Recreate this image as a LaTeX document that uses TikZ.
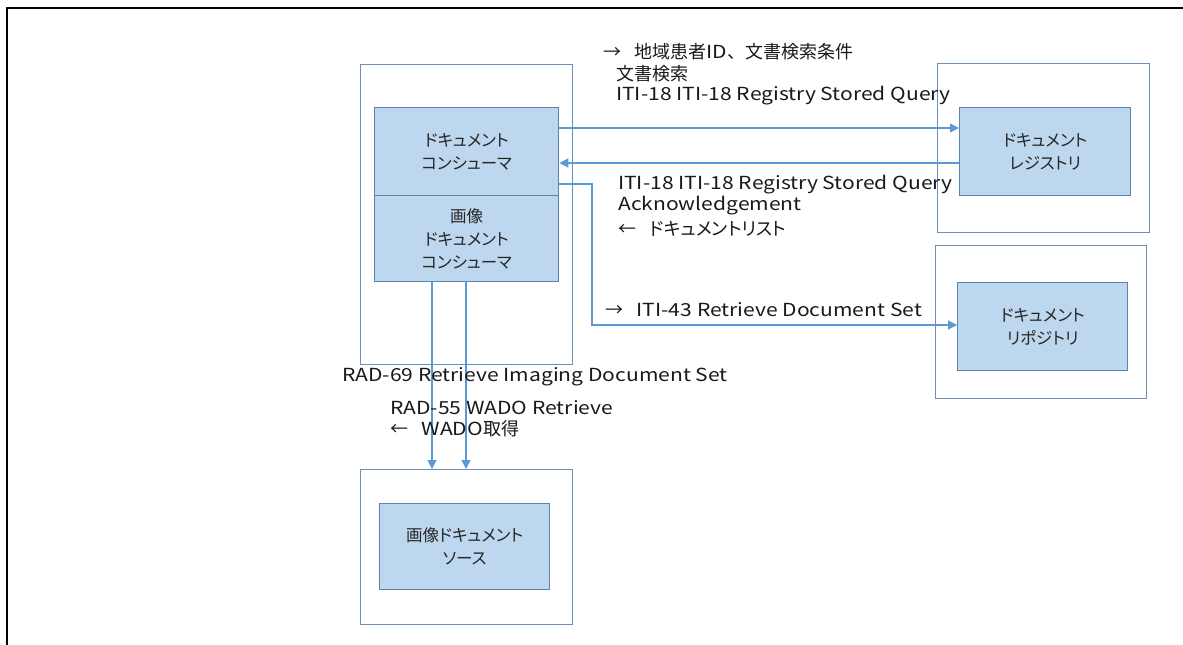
\documentclass[tikz,border=0pt]{standalone}
\usepackage{fontspec}
\setmainfont{Noto Sans CJK JP}[RawFeature=+palt]
\newfontfamily\latf{Noto Sans CJK JP}[FakeStretch=1.17]
\newfontfamily\fullw{Noto Sans CJK JP}
\usetikzlibrary{arrows.meta}
\definecolor{boxline}{HTML}{6E8EB8}
\definecolor{innerfill}{HTML}{BDD7EE}
\definecolor{innerline}{HTML}{5E82AE}
\definecolor{arrowc}{HTML}{5B9BD5}
\tikzset{
  outerbox/.style={draw=boxline, line width=1.2pt, fill=white},
  innerbox/.style={draw=innerline, line width=1.3pt, fill=innerfill, align=center, font=\fontsize{16.5}{23}\selectfont, inner sep=0pt, text=black!85},
  conn/.style={draw=arrowc, line width=1.2pt},
  tip/.style={-{Triangle[length=9pt,width=9pt]}},
  lbl/.style={anchor=west, font=\fontsize{18}{22}\selectfont, align=left, inner sep=0pt, text=black!90},
}
\newcommand{\agap}{\hspace{0.75em}}
\begin{document}
\begin{tikzpicture}[x=1pt,y=-1pt]
\useasboundingbox (0,0) rectangle (1183,645);
% page frame
\draw[line width=1.5pt] (7,645) -- (7,8) -- (1183,8);
% outer boxes
\node[outerbox, minimum width=212pt, minimum height=300pt, anchor=north west] (consO) at (360,64) {};
\node[outerbox, minimum width=212pt, minimum height=169pt, anchor=north west] (regO) at (937,63) {};
\node[outerbox, minimum width=211pt, minimum height=153pt, anchor=north west] (repO) at (935,245) {};
\node[outerbox, minimum width=212pt, minimum height=155pt, anchor=north west] (srcO) at (360,469) {};
% inner boxes
\node[innerbox, minimum width=184pt, minimum height=88pt, anchor=north west] (cons) at (374,107) {ドキュメント\\コンシューマ};
\node[innerbox, minimum width=184pt, minimum height=86pt, anchor=north west] (imgcons) at (374,195) {画像\\ドキュメント\\コンシューマ};
\node[innerbox, minimum width=171pt, minimum height=88pt, anchor=north west] (reg) at (959,107) {ドキュメント\\レジストリ};
\node[innerbox, minimum width=170pt, minimum height=88pt, anchor=north west] (rep) at (957,282) {ドキュメント\\リポジトリ};
\node[innerbox, minimum width=170pt, minimum height=86pt, anchor=north west] (src) at (379,503) {画像ドキュメント\\ソース};
% connectors
\coordinate (c1) at (592,184);
\coordinate (c2) at (592,325);
\draw[conn, tip] (cons.east |- 0,128) -- (reg.west |- 0,128);
\draw[conn, tip] (reg.west |- 0,163) -- (cons.east |- 0,163);
\draw[conn, tip] (cons.east |- c1) -- (c1) -- (c2) -- (rep.west |- c2);
\draw[conn, tip] (432,281) -- (432,469);
\draw[conn, tip] (466,281) -- (466,469);
% labels
\node[lbl] (l1) at (603,52) {→\agap{\fullw 地域患者}{\latf ID}{\fullw 、文書検索条件}};
\node[lbl] (l2) at (616,74) {文書検索};
\node[lbl] (l3) at (616,96) {\latf ITI-18 ITI-18 Registry Stored Query};
\node[lbl] (l4) at (618,185) {\latf ITI-18 ITI-18 Registry Stored Query};
\node[lbl] (l5) at (618,206) {\latf Acknowledgement};
\node[lbl] (l6) at (618,229) {←\agap ドキュメントリスト};
\node[lbl] (l7) at (605,310) {→\agap{\latf ITI-43 Retrieve Document Set}};
\node[lbl] (l8) at (342,377) {\latf RAD-69 Retrieve Imaging Document Set};
\node[lbl] (l9) at (390,408) {\latf RAD-55 WADO Retrieve};
\node[lbl] (l10) at (390,429) {←\agap{\latf WADO}取得};
\end{tikzpicture}
\end{document}
